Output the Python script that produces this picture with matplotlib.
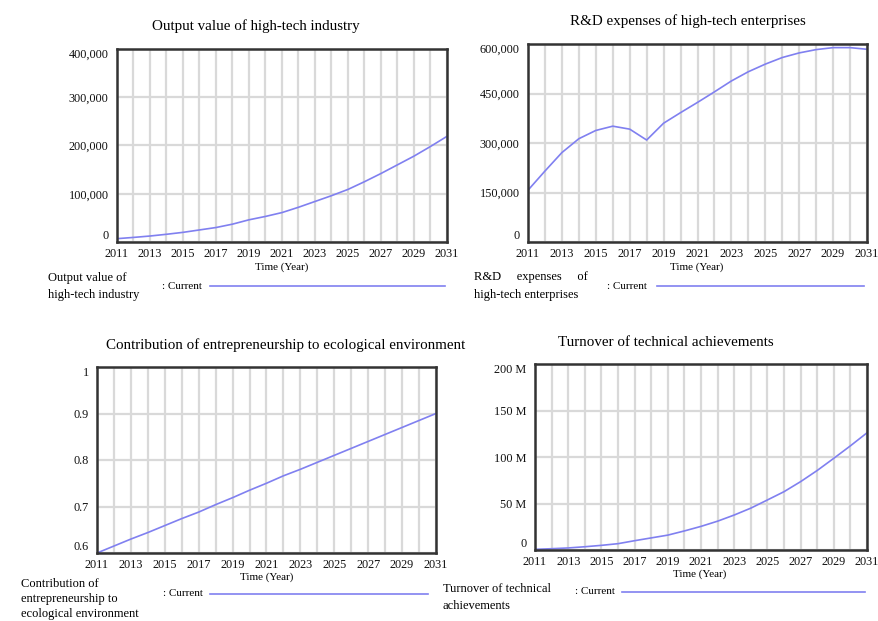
import matplotlib
matplotlib.use("Agg")
import matplotlib.pyplot as plt
from matplotlib.lines import Line2D
from matplotlib.ticker import FuncFormatter

years = list(range(2011, 2032))

output_value = [6900, 9500, 12400, 16000, 20000, 25000, 30000, 37000, 46000, 53000,
                61000, 72000, 84000, 96000, 109000, 125000, 142000, 160000, 178000,
                198000, 219000]
rd_expenses = [157000, 215000, 271000, 313000, 338000, 351000, 342000, 309000, 360000,
               392000, 423000, 455000, 488000, 516000, 539000, 559000, 573000, 583000,
               589000, 589000, 584000]
eco_contrib = [0.600, 0.615, 0.630, 0.644, 0.659, 0.674, 0.688, 0.704, 0.719, 0.735,
               0.750, 0.766, 0.780, 0.795, 0.810, 0.825, 0.840, 0.855, 0.870, 0.885,
               0.900]
turnover_m = [0.7, 1.4, 2.2, 3.5, 5.0, 6.8, 10, 13, 16, 20.5, 25.4, 31, 37.6, 45, 53.8,
              62.7, 73.5, 85.5, 98.6, 112, 126]
turnover = [v * 1e6 for v in turnover_m]

titles = ["Output value of high-tech industry",
          "R&D expenses of high-tech enterprises",
          "Contribution of entrepreneurship to ecological environment",
          "Turnover of technical achievements"]
legend_names = ["Output value of\nhigh-tech industry",
                "R&D     expenses     of\nhigh-tech enterprises",
                "Contribution of\nentrepreneurship to\necological environment",
                "Turnover of technical\nachievements"]
yticks = [[0, 100000, 200000, 300000, 400000],
          [0, 150000, 300000, 450000, 600000],
          [0.6, 0.7, 0.8, 0.9, 1.0],
          [0, 50e6, 100e6, 150e6, 200e6]]

W, H = 879, 621
plt.rcParams['font.family'] = ['Liberation Serif', 'DejaVu Serif']
LINE_C = '#8080f0'

fig = plt.figure(figsize=(W / 100, H / 100), dpi=100)


def px_axes(l, t, r, b):
    return fig.add_axes([l / W, 1 - b / H, (r - l) / W, (b - t) / H])


def ftext(x, y, s, **kw):
    fig.text(x / W, 1 - y / H, s, **kw)


fmt_comma = FuncFormatter(lambda v, p: f"{v:,.0f}")
fmt_dec = FuncFormatter(lambda v, p: f"{v:g}")
fmt_m = FuncFormatter(lambda v, p: "0" if v == 0 else f"{v / 1e6:.0f} M")

panels = [
    dict(box=(117, 49, 447, 242), data=output_value, fmt=fmt_comma,
         title=(256, 26), xlab=(282, 267),
         leg=(48, [278, 295]), cur=(162, 286), line=(210, 445, 286)),
    dict(box=(528, 44, 867, 242), data=rd_expenses, fmt=fmt_comma,
         title=(688, 21), xlab=(697, 267),
         leg=(474, [277, 295]), cur=(607, 286), line=(657, 864, 286)),
    dict(box=(97, 367, 436, 553), data=eco_contrib, fmt=fmt_dec,
         title=(286, 345), xlab=(267, 577),
         leg=(21, [584, 599, 614]), cur=(163, 594), line=(210, 428, 594)),
    dict(box=(535, 364, 867, 550), data=turnover, fmt=fmt_m,
         title=(666, 343), xlab=(700, 574),
         leg=(443, [589, 606]), cur=(575, 592), line=(622, 865, 592)),
]

for i, p in enumerate(panels):
    ax = px_axes(*p['box'])
    ax.plot(years, p['data'], color=LINE_C, lw=1.2)
    ax.set_xlim(2011, 2031)
    ax.set_ylim(yticks[i][0], yticks[i][-1])
    ax.set_xticks(range(2011, 2032, 2))
    ax.set_xticks(range(2011, 2032), minor=True)
    ax.set_yticks(yticks[i])
    ax.yaxis.set_major_formatter(p['fmt'])
    ax.grid(True, which='both', axis='x', color='#d9d9d9', lw=1.6)
    ax.grid(True, which='major', axis='y', color='#d9d9d9', lw=1.6)
    ax.set_axisbelow(True)
    ax.tick_params(which='both', length=0, labelsize=8.8, colors='#111111')
    ax.tick_params(axis='x', pad=4)
    ax.tick_params(axis='y', pad=6)
    labs = ax.get_yticklabels()
    labs[0].set_va('bottom')
    labs[-1].set_va('top')
    for s in ax.spines.values():
        s.set_color('#333333')
        s.set_linewidth(1.8)

    ftext(p['title'][0], p['title'][1], titles[i], ha='center', va='center', fontsize=10.8)
    ftext(p['xlab'][0], p['xlab'][1], "Time (Year)", ha='center', va='center', fontsize=8)
    for name, yy in zip(legend_names[i].split("\n"), p['leg'][1]):
        ftext(p['leg'][0], yy, name, ha='left', va='center', fontsize=9)
    ftext(p['cur'][0], p['cur'][1], ": Current", ha='left', va='center', fontsize=8)
    x0, x1, yl = p['line']
    fig.add_artist(Line2D([x0 / W, x1 / W], [1 - yl / H, 1 - yl / H],
                          color=LINE_C, lw=1.2, transform=fig.transFigure))

fig.savefig("out.png", dpi=100)
